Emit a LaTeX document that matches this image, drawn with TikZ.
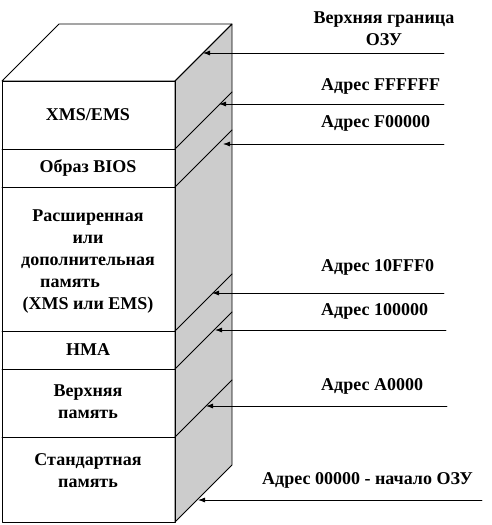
\documentclass[tikz,border=0pt]{standalone}
\usepackage{fontspec}
\setmainfont{Liberation Serif}
\usepackage{tikz}
\usetikzlibrary{arrows.meta}
\usepackage{tkz-euclide}
\usepackage{xcolor}

\tikzset{
  edge/.style = {black, line width=0.8pt},
  ptr/.style = {black, line width=0.8pt, -{Latex[length=7pt, width=5pt]}},
  lbl/.style = {font=\bfseries\fontsize{18}{22}\selectfont, align=center, inner sep=0pt},
  addr/.style = {lbl, anchor=west}
}

\begin{document}
\begin{tikzpicture}[x=1pt, y=-1pt]
            \useasboundingbox (0,0) rectangle (492,525);
            \tkzDefPoints{2/81/A, 175/81/B, 175/522/C, 2/522/D, 59/24/E, 232/24/F, 232/465/G}
            \tkzDefPoints{2/149/L1, 2/187/L2, 2/331/L3, 2/369/L4, 2/437/L5}
            \tkzDefPoints{175/149/M1, 175/187/M2, 175/331/M3, 175/369/M4, 175/437/M5}
            \tkzDefPoints{232/92/N1, 232/130/N2, 232/274/N3, 232/312/N4, 232/380/N5}
            \tkzDefPoints{203/53/T1, 219/104/T2, 223/144/T3, 212/293/T4, 215/330/T5, 206/406/T6, 198/500/T7}
            \tkzDefPoints{444/53/S1, 444/104/S2, 444/144/S3, 444/293/S4, 446/330/S5, 447/406/S6, 482/500/S7}
            \tkzFillPolygon[color=gray!40](B,F,G,C)
            \tkzDrawPolygon[edge](A,B,C,D)
            \tkzDrawPolygon[edge](A,E,F,B)
            \tkzDrawPolygon[edge](B,F,G,C)
            \tkzDrawSegments[edge](L1,M1 M1,N1 L2,M2 M2,N2 L3,M3 M3,N3 L4,M4 M4,N4 L5,M5 M5,N5)
            \tkzDrawSegments[ptr](S1,T1 S2,T2 S3,T3 S4,T4 S5,T5 S6,T6 S7,T7)
            \node[lbl] (xms) at (88,115) {XMS/EMS};
            \node[lbl] (bios) at (88,168) {Образ BIOS};
            \node[lbl] (ext) at (88,262) {Расширенная\\или\\дополнительная\\память\kern2em\\(XMS или EMS)};
            \node[lbl] (hma) at (88,350) {HMA};
            \node[lbl] (upper) at (88,402) {Верхняя\\память};
            \node[lbl] (conv) at (88,471) {Стандартная\\память};
            \node[lbl] (ramtop) at (384,29) {Верхняя граница\\ОЗУ};
            \node[addr] (aFFFFFF) at (321,86) {Адрес FFFFFF};
            \node[addr] (aF00000) at (321,123) {Адрес F00000};
            \node[addr] (a10FFF0) at (321,267) {Адрес 10FFF0};
            \node[addr] (a100000) at (321,311) {Адрес 100000};
            \node[addr] (aA0000) at (321,386) {Адрес A0000};
            \node[addr] (a00000) at (262,480) {Адрес 00000 - начало ОЗУ};
        \end{tikzpicture}
\end{document}
